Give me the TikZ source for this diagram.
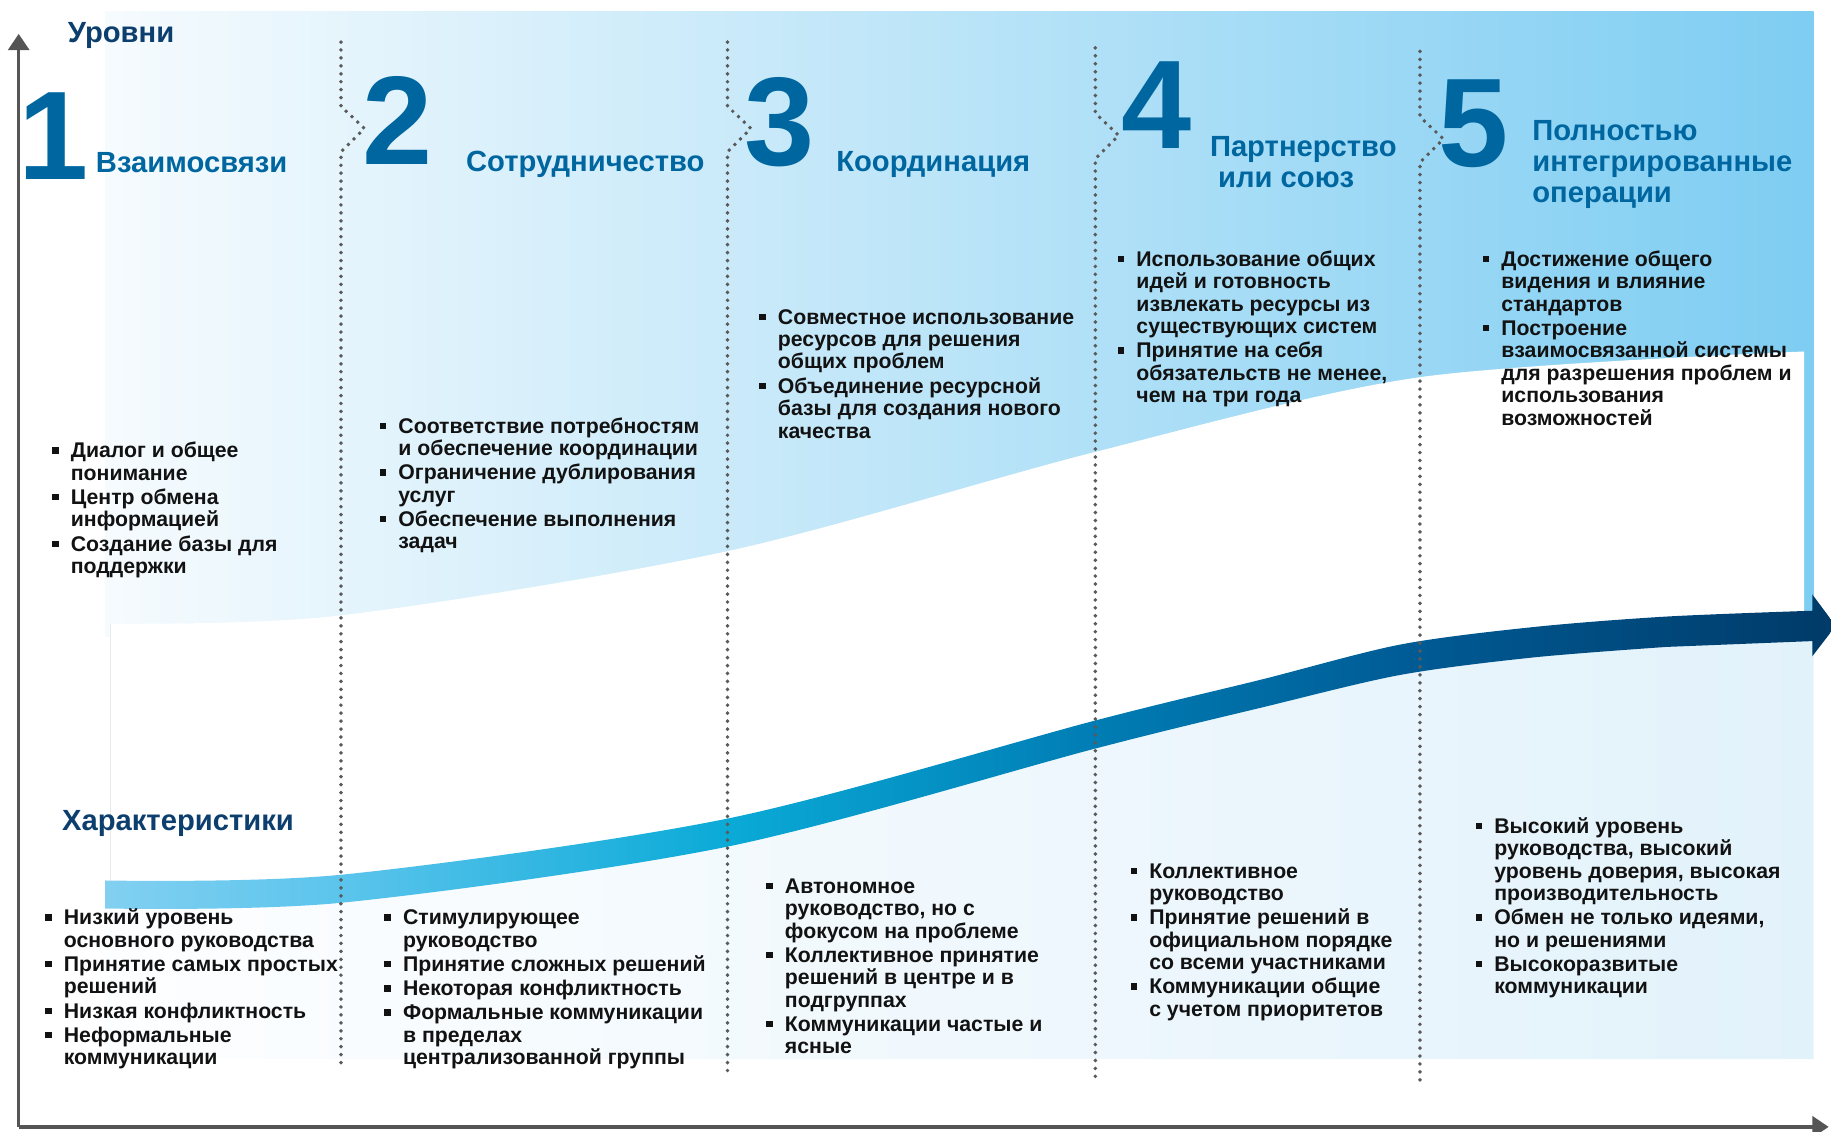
\documentclass[tikz,border=0pt]{standalone}
\usepackage{fontspec}
\setmainfont{Liberation Sans}
\usetikzlibrary{arrows.meta}

\definecolor{numblue}{RGB}{0,102,160}
\definecolor{navy}{RGB}{12,62,110}
\definecolor{axisgray}{RGB}{85,85,85}
\definecolor{dotgray}{RGB}{90,90,90}
\definecolor{topL}{RGB}{246,251,254}
\definecolor{topR}{RGB}{126,205,242}
\definecolor{lowL}{RGB}{253,254,255}
\definecolor{lowR}{RGB}{226,242,251}
\definecolor{bandA}{RGB}{130,208,241}
\definecolor{bandB}{RGB}{90,196,236}
\definecolor{bandC}{RGB}{10,170,215}
\definecolor{bandD}{RGB}{0,125,180}
\definecolor{bandE}{RGB}{0,90,148}
\definecolor{bandF}{RGB}{0,58,104}

\pgfdeclarehorizontalshading{bandshade}{100bp}{color(0bp)=(bandA); color(25bp)=(bandA); color(32bp)=(bandB); color(43bp)=(bandC); color(53.6bp)=(bandD); color(63bp)=(bandE); color(75bp)=(bandF); color(100bp)=(bandF)}

\newcommand{\bul}{\rule[3.5pt]{5.5pt}{5.5pt}}
\newcommand{\blist}[1]{\begin{tabular}[t]{@{}l@{\hspace{10.5pt}}l@{}}#1\end{tabular}}
\newcommand{\rows}[1]{\begin{tabular}[t]{@{}l@{}}#1\end{tabular}}

\tikzset{
  lvl/.style={font=\fontsize{108}{108}\selectfont\bfseries, text=numblue, anchor=base west, inner sep=0pt},
  ttl/.style={font=\fontsize{25}{26.6}\selectfont\bfseries, text=numblue, anchor=base west, inner sep=0pt},
  hdr/.style={font=\fontsize{25}{26.6}\selectfont\bfseries, text=navy, anchor=base west, inner sep=0pt},
  lst/.style={font=\fontsize{18.2}{19.2}\selectfont\bfseries, text=black!93, anchor=base west, inner sep=0pt},
  sep/.style={dotgray, line width=3.4pt, line cap=round, dash pattern=on 0pt off 6.8pt},
  ax/.style={axisgray, line width=3pt, -{Triangle[width=18pt,length=14pt]}}
}

\begin{document}
\begin{tikzpicture}[x=1pt, y=-1pt]
\useasboundingbox (0,0) rectangle (1568,969);

% -------- background areas -----------
\shade[left color=topL, right color=topR] (90,10) rectangle (1553,545);
\fill[white] plot[smooth] coordinates {(95,534) (292,527) (623,472) (938,387) (1216,323) (1545,301)} -- (1545,560) -- (95,785) -- cycle;
\draw[black!8, line width=0.8pt] (95,534) -- (95,760);
\shade[left color=lowL, right color=lowR] plot[smooth] coordinates {(90,766) (293,761) (623,713) (938,629) (1080,594) (1199,565) (1313,550) (1427,541) (1553,536)} -- (1553,907) -- (90,907) -- cycle;

% -------- growth arrow -----------
\shade[shading=bandshade] plot[smooth] coordinates {(90,754) (293,749) (623,701) (938,617) (1080,582) (1199,552) (1313,537) (1427,528) (1552,523)} -- (1552,509) -- (1572,536) -- (1552,562) -- (1552,549) -- plot[smooth] coordinates {(1427,554) (1313,563) (1199,578) (1080,606) (938,641) (623,725) (293,773) (90,778)} -- cycle;

% -------- stage borders -----------
\foreach \x/\t/\k/\b in {292/36/91/916, 623/36/91/918, 938/41/97/923, 1216/44/100/925}
  \draw[sep] (\x,\t) -- (\x,\k) -- ++(20,19) -- ++(-20,20) -- (\x,\b);

% -------- axes -----------
\coordinate (org) at (16,965);
\coordinate (ytip) at (16,29);
\coordinate (xtip) at (1566,965);
\draw[ax] (org) -- (ytip);
\draw[ax] (org) -- (xtip);

\node[hdr] (lev) at (58,36.5) {Уровни};
\node[hdr] (chr) at (53,711) {Характеристики};

% -------- stage numbers and names -----------
\node[lvl] (n1) at (16,154) {1};
\node[lvl] (n2) at (310,141) {2};
\node[lvl] (n3) at (637,141.5) {3};
\node[lvl] (n4) at (960,127) {4};
\node[lvl] (n5) at (1232,143) {5};

\node[ttl] (t1) at (82,148) {Взаимосвязи};
\node[ttl] (t2) at (399,147) {Сотрудничество};
\node[ttl] (t3) at (716,147) {Координация};
\node[ttl] (t4) at (1036,133.6) {\rows{Партнерство\\\hspace{7pt}или союз}};
\node[ttl] (t5) at (1312,120) {\rows{Полностью\\интегрированные\\операции}};

% -------- upper lists -----------
\node[lst] (a1) at (44.5,392) {\blist{\bul & Диалог и общее\\ & понимание\\[1.5pt]
  \bul & Центр обмена\\ & информацией\\[1.5pt]
  \bul & Создание базы для\\ & поддержки}};
\node[lst] (a2) at (325,371) {\blist{\bul & Соответствие потребностям\\ & и обеспечение координации\\[1.5pt]
  \bul & Ограничение дублирования\\ & услуг\\[1.5pt]
  \bul & Обеспечение выполнения\\ & задач}};
\node[lst] (a3) at (650,277.5) {\blist{\bul & Совместное использование\\ & ресурсов для решения\\ & общих проблем\\[1.5pt]
  \bul & Объединение ресурсной\\ & базы для создания нового\\ & качества}};
\node[lst] (a4) at (957,228) {\blist{\bul & Использование общих\\ & идей и готовность\\ & извлекать ресурсы из\\ & существующих систем\\[1.5pt]
  \bul & Принятие на себя\\ & обязательств не менее,\\ & чем на три года}};
\node[lst] (a5) at (1269.5,228) {\blist{\bul & Достижение общего\\ & видения и влияние\\ & стандартов\\[1.5pt]
  \bul & Построение\\ & взаимосвязанной системы\\ & для разрешения проблем и\\ & использования\\ & возможностей}};

% -------- lower lists -----------
\node[lst] (b1) at (38.5,792) {\blist{\bul & Низкий уровень\\ & основного руководства\\[1.5pt]
  \bul & Принятие самых простых\\ & решений\\[1.5pt]
  \bul & Низкая конфликтность\\[1.5pt]
  \bul & Неформальные\\ & коммуникации}};
\node[lst] (b2) at (329,792) {\blist{\bul & Стимулирующее\\ & руководство\\[1.5pt]
  \bul & Принятие сложных решений\\[1.5pt]
  \bul & Некоторая конфликтность\\[1.5pt]
  \bul & Формальные коммуникации\\ & в пределах\\ & централизованной группы}};
\node[lst] (b3) at (656,765) {\blist{\bul & Автономное\\ & руководство, но с\\ & фокусом на проблеме\\[1.5pt]
  \bul & Коллективное принятие\\ & решений в центре и в\\ & подгруппах\\[1.5pt]
  \bul & Коммуникации частые и\\ & ясные}};
\node[lst] (b4) at (968,752) {\blist{\bul & Коллективное\\ & руководство\\[1.5pt]
  \bul & Принятие решений в\\ & официальном порядке\\ & со всеми участниками\\[1.5pt]
  \bul & Коммуникации общие\\ & с учетом приоритетов}};
\node[lst] (b5) at (1263.5,713.5) {\blist{\bul & Высокий уровень\\ & руководства, высокий\\ & уровень доверия, высокая\\ & производительность\\[1.5pt]
  \bul & Обмен не только идеями,\\ & но и решениями\\[1.5pt]
  \bul & Высокоразвитые\\ & коммуникации}};
\end{tikzpicture}
\end{document}
